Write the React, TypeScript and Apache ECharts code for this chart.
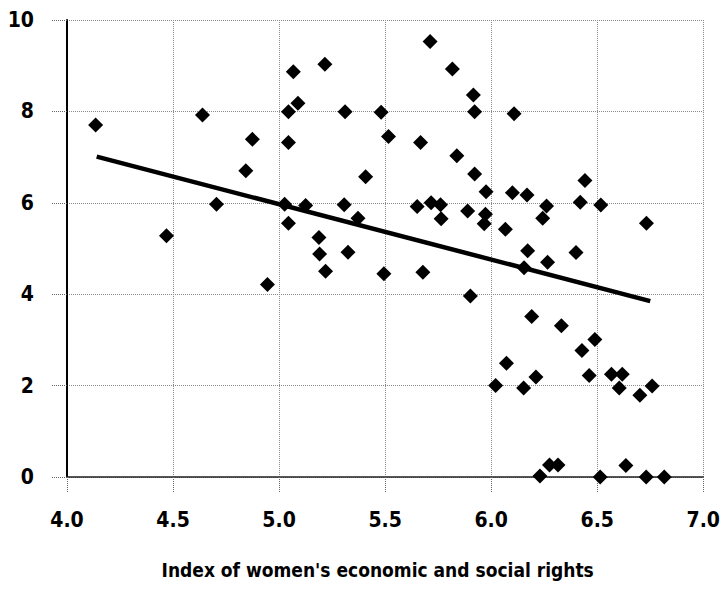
import React, { useEffect, useRef } from "react";
import * as echarts from "echarts";

const xTickLabels = ["4.0", "4.5", "5.0", "5.5", "6.0", "6.5", "7.0"];
const yTickLabels = ["0", "2", "4", "6", "8", "10"];
const xTitle = "Index of women's economic and social rights";

const pointX = [
  4.135, 4.639, 4.469, 4.705, 4.874, 4.843, 5.067, 5.216, 5.089, 5.044,
  5.311, 5.044, 5.026, 5.125, 5.307, 5.044, 5.188, 5.191, 5.325, 5.372,
  5.408, 4.945, 5.219, 5.712, 5.817, 5.916, 5.922, 5.481, 6.108, 5.516,
  5.667, 5.838, 5.922, 6.442, 5.976, 6.1, 6.169, 5.651, 5.717, 5.761,
  5.764, 5.889, 5.973, 5.967, 6.261, 6.243, 6.42, 6.517, 6.732, 6.067,
  6.172, 6.266, 6.4, 5.494, 5.678, 6.155, 5.902, 6.191, 6.331, 6.489,
  6.428, 6.072, 6.211, 6.462, 6.567, 6.618, 6.604, 6.701, 6.759, 6.021,
  6.153, 6.275, 6.315, 6.23, 6.514, 6.635, 6.731, 6.816,
];
const pointY = [
  7.7, 7.92, 5.28, 5.97, 7.39, 6.7, 8.87, 9.03, 8.18, 7.99,
  7.99, 7.32, 5.97, 5.94, 5.96, 5.55, 5.24, 4.88, 4.92, 5.66,
  6.57, 4.21, 4.5, 9.53, 8.93, 8.36, 7.99, 7.98, 7.95, 7.45,
  7.32, 7.03, 6.63, 6.49, 6.24, 6.22, 6.17, 5.92, 6.0, 5.96,
  5.65, 5.82, 5.75, 5.54, 5.93, 5.66, 6.01, 5.95, 5.55, 5.42,
  4.95, 4.7, 4.91, 4.45, 4.48, 4.58, 3.96, 3.51, 3.31, 3.01,
  2.77, 2.49, 2.19, 2.22, 2.25, 2.25, 1.95, 1.79, 1.99, 2.0,
  1.95, 0.26, 0.26, 0.02, 0.0, 0.25, 0.0, 0.0,
];

const trendX = [4.14, 6.75];
const trendY = [7.01, 3.85];

const FONT = '"DejaVu Sans Condensed", "DejaVu Sans", sans-serif';

export default function App() {
  const ref = useRef<HTMLDivElement>(null);
  useEffect(() => {
    if (!ref.current) return;
    const chart = echarts.init(ref.current, undefined, { renderer: "svg" });
    const gridDotted = { color: "#8a8a8a", width: 1, type: "dotted" as any };
    const tickDotted = { color: "#666", width: 1, type: "dotted" as any };
    chart.setOption({
      animation: false,
      backgroundColor: "#ffffff",
      grid: { left: 67, right: 19, top: 20, bottom: 114, containLabel: false },
      xAxis: {
        type: "value",
        min: 4,
        max: 7,
        interval: 0.5,
        name: xTitle,
        nameLocation: "middle",
        nameGap: 83,
        nameTextStyle: {
          fontFamily: FONT,
          fontWeight: "bold",
          fontSize: 19,
          color: "#000",
          padding: [0, 15, 0, 0],
        },
        axisLine: { show: true, onZero: false, lineStyle: { color: "#222", width: 1.5 } },
        axisTick: { show: true, inside: false, length: 15, lineStyle: tickDotted },
        axisLabel: {
          margin: 32,
          fontFamily: FONT,
          fontWeight: "bold",
          fontSize: 21,
          color: "#000",
          formatter: (v: number) => xTickLabels[Math.round((v - 4) / 0.5)] ?? "",
        },
        splitLine: { show: true, lineStyle: gridDotted },
      },
      yAxis: {
        type: "value",
        min: 0,
        max: 10,
        interval: 2,
        axisLine: { show: true, onZero: false, lineStyle: { color: "#000", width: 2 } },
        axisTick: { show: true, inside: false, length: 15, lineStyle: tickDotted },
        axisLabel: {
          margin: 33,
          fontFamily: FONT,
          fontWeight: "bold",
          fontSize: 21,
          color: "#000",
          formatter: (v: number) => yTickLabels[Math.round(v / 2)] ?? "",
        },
        splitLine: { show: true, lineStyle: gridDotted },
      },
      series: [
        {
          type: "line",
          data: trendX.map((x, i) => [x, trendY[i]]),
          symbol: "none",
          lineStyle: { color: "#000", width: 4.5 },
          z: 3,
        },
        {
          type: "scatter",
          data: pointX.map((x, i) => [x, pointY[i]]),
          symbol: "diamond",
          symbolSize: 15,
          itemStyle: { color: "#000", opacity: 1 },
          clip: false,
          z: 4,
        },
      ],
    });
    return () => chart.dispose();
  }, []);
  return <div ref={ref} style={{ width: 723, height: 591, position: "absolute", left: 0, top: 0 }} />;
}
